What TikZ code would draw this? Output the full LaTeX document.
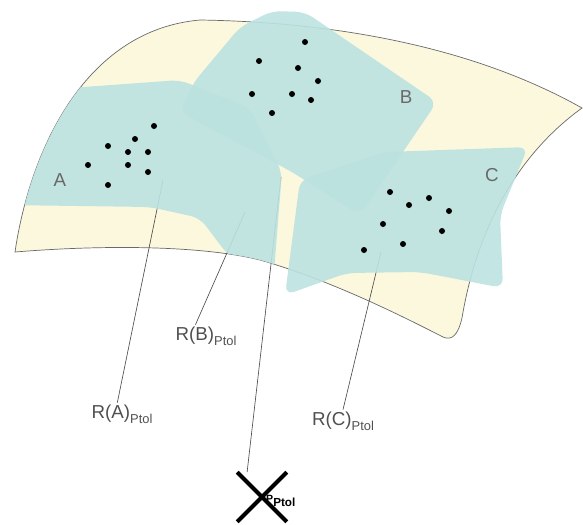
\documentclass[tikz,border=0pt]{standalone}
\usepackage{fontspec}
\setmainfont{Liberation Sans}
\usepackage{xcolor}
\usepackage{tikz}
\usetikzlibrary{calc, shapes.misc}
\definecolor{creamfill}{RGB}{252, 248, 222}
\definecolor{sheetblue}{RGB}{188, 226, 225}
\definecolor{edgegray}{RGB}{105, 105, 105}
\definecolor{leadgray}{RGB}{75, 75, 75}
\definecolor{textgray}{RGB}{80, 80, 80}
\tikzset{
    surf/.style   ={fill=creamfill, draw=edgegray, line width=0.6pt},
    sheet/.style  ={fill=sheetblue, fill opacity=0.9, rounded corners=8pt},
    lead/.style   ={draw=leadgray, line width=0.55pt},
    lbl/.style    ={font=\fontsize{16}{18}\selectfont, text=textgray, inner sep=1.5pt},
    tag/.style    ={font=\fontsize{16}{18}\selectfont, text=edgegray, inner sep=0pt},
    refmark/.style={draw=black, cross out, line width=3.4pt,
                    minimum size=39pt, inner sep=0pt}
}
\newcommand{\ptol}{\raisebox{-0.5ex}{\fontsize{11}{11}\selectfont Ptol}}
\newcommand{\surfpath}{(15,252) .. controls (30,150) and (85,30) .. (200,20)
     .. controls (330,22) and (470,45) .. (582,108)
     .. controls (510,160) and (475,240) .. (462,318)
     .. controls (458,335) and (452,341) .. (443,337)
     .. controls (400,315) and (330,280) .. (260,260)
     .. controls (200,245) and (100,245) .. (15,252) -- cycle}

\begin{document}
\begin{tikzpicture}[x=0.03cm, y=-0.03cm]
  \useasboundingbox (0,0) rectangle (583,524);

  % the surface
  \path[surf] \surfpath;

  % labels below the surface
  \node[lbl] (labA) at (122,414) {R(A)\ptol};
  \node[lbl] (labB) at (206,336) {R(B)\ptol};
  \node[lbl] (labC) at (343,421) {R(C)\ptol};
  \node[font=\bfseries\fontsize{9}{9}\selectfont, anchor=west, inner sep=0pt] (Ptag)
       at (266,501) {P\raisebox{-0.7ex}{\fontsize{10}{10}\selectfont Ptol}};
  \node[refmark] (P) at (262,497) {};

  % leader lines, ending inside the sheets
  \coordinate (tipA) at (163,180);
  \coordinate (tipB) at (245,212);
  \coordinate (tipC) at (381,252);
  \coordinate (tipP) at (281,177);
  \draw[lead] (tipA) -- ([xshift=-4pt]labA.north);
  \draw[lead] (tipB) -- ([xshift=-9pt]labB.north);
  \draw[lead] (tipC) -- (labC.north);
  \draw[lead] (tipP) -- ($(P.north west)!0.4!(P.north)$);

  % sheets A, C, B
  \begin{scope}
    \clip \surfpath;
    \path[sheet] (5,97) -- (70,88) -- (180,80) -- (250,108) -- (282,172)
         -- (273,285) -- (227,254) -- (200,218) -- (150,207) -- (5,205) -- cycle;
  \end{scope}
  \path[sheet] (300,180) -- (385,152) -- (528,147) -- (500,215) -- (503,288)
       -- (420,272) -- (347,273) -- (285,295) -- cycle;
  \path[sheet] (240,27) -- (272,11) -- (305,12) -- (437,102) -- (360,215)
       -- (292,172) -- (180,112) -- (194,82) -- cycle;

  % points
  \foreach \x/\y in {154/126, 135/139, 108/146, 128/152, 148/152,
                     88/165, 128/165, 148/172, 108/185}
    \fill (\x,\y) circle (3);
  \foreach \x/\y in {305/42, 259/61, 298/68, 318/81, 252/94,
                     292/94, 311/100, 272/113}
    \fill (\x,\y) circle (3);
  \foreach \x/\y in {390/192, 429/198, 409/205, 449/211, 383/224,
                     442/231, 403/244, 364/250}
    \fill (\x,\y) circle (3);

  % sheet names
  \node[tag] (nA) at (60,180) {A};
  \node[tag] (nB) at (406,97) {B};
  \node[tag] (nC) at (492,175) {C};
\end{tikzpicture}
\end{document}
